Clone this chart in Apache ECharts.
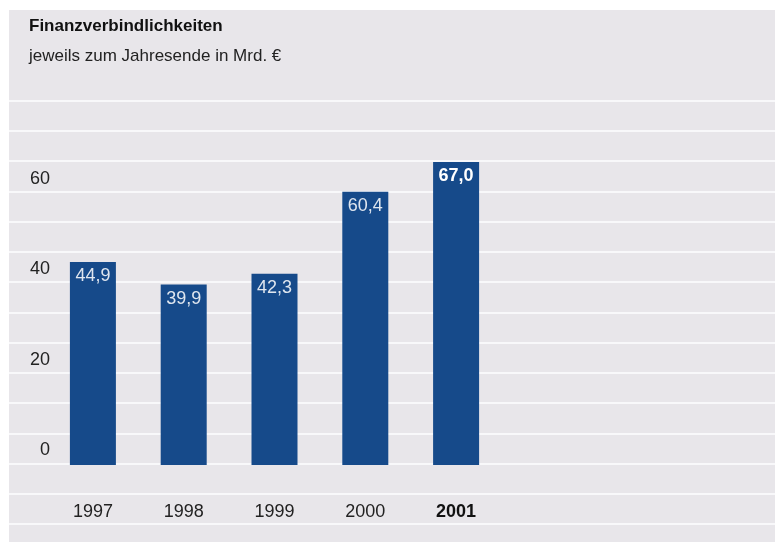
<!DOCTYPE html>
<html>
<head>
<meta charset="utf-8">
<script src="https://cdn.jsdelivr.net/npm/echarts@6/dist/echarts.min.js"></script>
<style>
  html, body { margin: 0; padding: 0; background: #ffffff; }
  #panel { position: absolute; left: 9px; top: 10px; width: 766px; height: 532px; background: #e8e6ea; }
  #chart { position: absolute; left: 0; top: 0; width: 775px; height: 542px; }
</style>
</head>
<body>
<div id="panel"></div>
<div id="chart"></div>
<script>
const titleText = 'Finanzverbindlichkeiten';
const subtitleText = 'jeweils zum Jahresende in Mrd. €';
const categories = ['1997', '1998', '1999', '2000', '2001'];
const values = [44.9, 39.9, 42.3, 60.4, 67.0];
const highlightIndex = 4;
const yInterval = 20;
const yMax = 79;
const rowCount = 14;

const FONT = '"Liberation Sans", Arial, sans-serif';
const fmt = v => v.toFixed(1).replace('.', ',');

const chart = echarts.init(document.getElementById('chart'), null, { renderer: 'canvas' });

const option = {
  backgroundColor: 'transparent',
  animation: false,
  title: [
    { text: titleText, left: 24, top: 13, textStyle: { fontFamily: FONT, fontSize: 17, fontWeight: 'bold', color: '#111111' } },
    { text: subtitleText, left: 24, top: 43, textStyle: { fontFamily: FONT, fontSize: 17, fontWeight: 'normal', color: '#222222' } }
  ],
  grid: [
    { left: 47.5, right: 273.5, top: 465 - yMax * 4.522, bottom: 77 },
    { left: 9, right: 0, top: 100.5, bottom: 18 }
  ],
  xAxis: [
    {
      gridIndex: 0,
      type: 'category',
      data: categories.map((c, i) => i === highlightIndex
        ? { value: c, textStyle: { fontWeight: 'bold', color: '#111111' } }
        : c),
      axisLine: { show: false },
      axisTick: { show: false },
      axisLabel: { fontFamily: FONT, fontSize: 18, color: '#222222', margin: 38 }
    },
    { gridIndex: 1, type: 'value', show: false, min: 0, max: 1 }
  ],
  yAxis: [
    {
      gridIndex: 0,
      type: 'value',
      min: 0,
      max: yMax,
      interval: yInterval,
      splitLine: { show: false },
      axisLine: { show: false },
      axisTick: { show: false },
      axisLabel: {
        showMaxLabel: false,
        align: 'right', verticalAlign: 'middle', margin: -2.5,
        formatter: v => '{a|' + v + '}',
        rich: {
          a: { fontFamily: FONT, fontSize: 18, color: '#222222', padding: [0, 0, 30, 0] }
        }
      }
    },
    {
      gridIndex: 1,
      type: 'value',
      min: 0,
      max: rowCount,
      interval: 1,
      axisLine: { show: false },
      axisTick: { show: false },
      axisLabel: { show: false },
      splitLine: { show: true, showMinLine: true, showMaxLine: true, lineStyle: { color: '#f8f8fa', width: 2 } }
    }
  ],
  series: [
    {
      type: 'bar',
      xAxisIndex: 0,
      yAxisIndex: 0,
      barWidth: 46,
      z: 3,
      itemStyle: { color: '#164a8a' },
      label: {
        show: true,
        position: 'insideTop',
        distance: 5,
        fontFamily: FONT,
        fontSize: 18,
        color: '#dfe6ef',
        formatter: p => fmt(p.value)
      },
      data: values.map((v, i) => i === highlightIndex
        ? { value: v, label: { fontWeight: 'bold', color: '#ffffff' } }
        : v)
    }
  ]
};

chart.setOption(option);
</script>
</body>
</html>
